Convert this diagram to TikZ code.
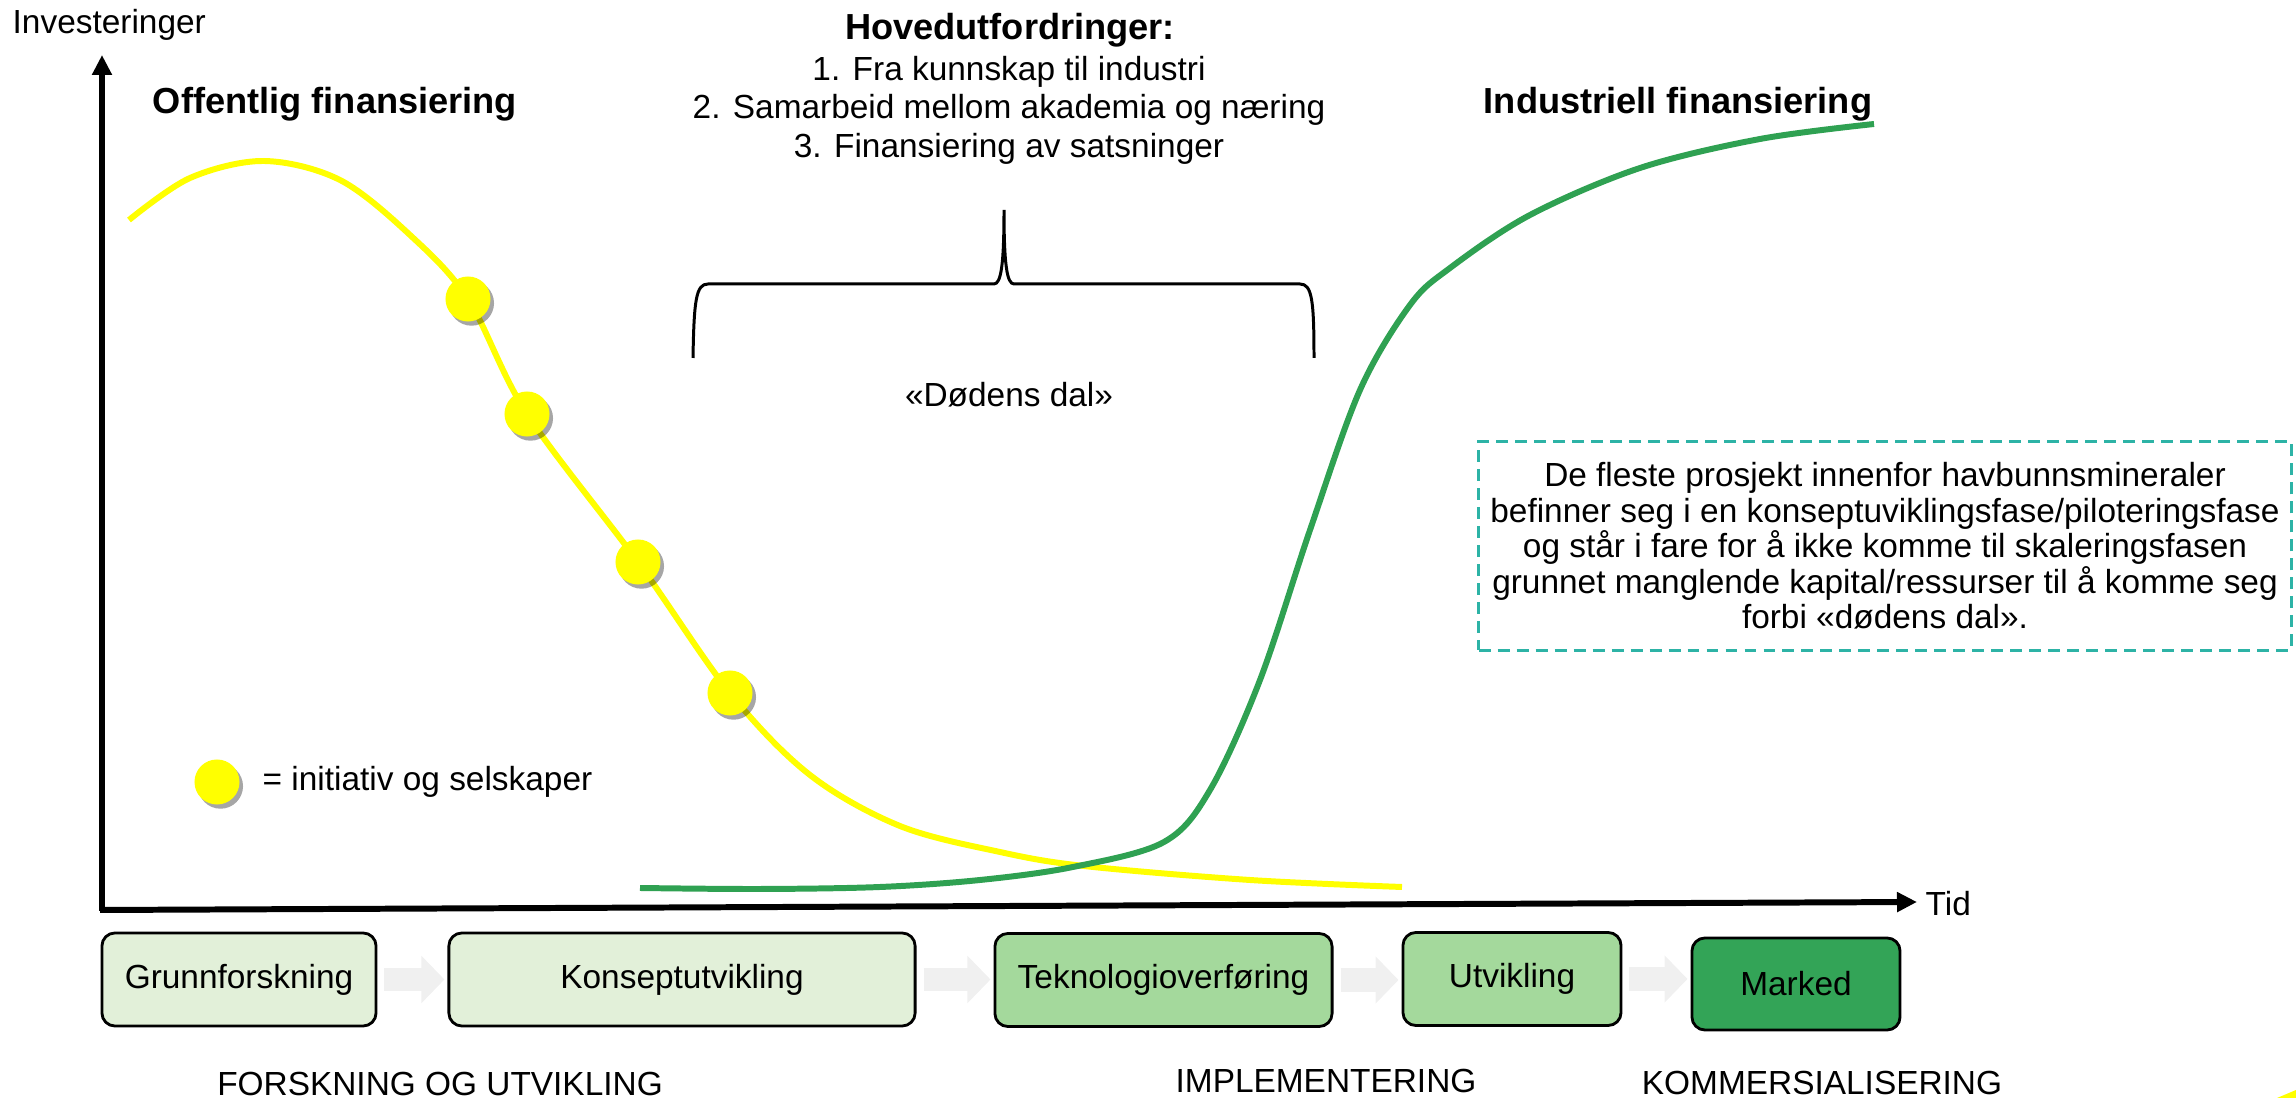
\documentclass[tikz,border=0pt]{standalone}
\usepackage{fontspec}
\setmainfont{Liberation Sans}
\usepackage{tikz}
\usetikzlibrary{arrows.meta, positioning, calc, shadows}
\definecolor{valleyYellow}{HTML}{FFFF00}
\definecolor{valleyGreen}{HTML}{2FA152}
\definecolor{stageLight}{HTML}{E2F0D9}
\definecolor{stageMid}{HTML}{A4D99C}
\definecolor{stageDark}{HTML}{33A457}
\definecolor{flowGrey}{HTML}{F0F0F0}
\definecolor{noteTeal}{HTML}{2DB3A6}
\newcommand{\valleyfont}{\fontsize{9.5}{11}\selectfont}
\newcommand{\valleyhead}{\fontsize{10.3}{12}\selectfont\bfseries}

\begin{document}
\begin{tikzpicture}[
    x=0.01cm, y=-0.01cm,
    txt/.style={
        inner sep=0pt,
        font=\valleyfont,
        text=black
    },
    head/.style={
        inner sep=0pt,
        font=\valleyhead,
        text=black
    },
    stagebox/.style={
        rectangle,
        rounded corners=1.3mm,
        draw=black,
        line width=0.8pt,
        inner sep=0pt,
        minimum height=0.93cm,
        font=\valleyfont
    },
    flow/.style={
        draw=flowGrey,
        line width=0.23cm,
        -{Triangle[length=0.23cm, width=0.46cm]},
        shorten <=0.07cm,
        shorten >=0.03cm
    },
    valleyaxis/.style={
        line width=1.7pt,
        -{Triangle[length=0.2cm, width=0.19cm]}
    },
    curve/.style={
        line width=1.7pt
    },
    initdot/.style={
        circle,
        fill=valleyYellow,
        inner sep=0pt,
        minimum size=0.45cm,
        drop shadow={shadow xshift=1pt, shadow yshift=-1.2pt, opacity=0.35, fill=black}
    },
    note/.style={
        rectangle,
        draw=noteTeal,
        dash pattern=on 3.4pt off 2pt,
        line width=0.85pt,
        minimum width=8.04cm,
        minimum height=2.08cm,
        align=center,
        font=\fontsize{9.5}{10.1}\selectfont
    }
]
\useasboundingbox (0,0) rectangle (2296,1098);

% Curves
\coordinate (d1) at (468,299);
\coordinate (d2) at (527,414);
\coordinate (d3) at (638,562);
\coordinate (d4) at (730,693);

\draw[curve, draw=valleyYellow] plot[smooth, tension=0.55] coordinates {
    (129,220) (190,178) (264,161) (340,180) (410,235) (d1) (d2) (d3) (d4)
    (810,775) (900,826) (1000,852) (1084,866) (1250,880) (1402,887)};

\draw[curve, draw=valleyGreen] plot[smooth, tension=0.55] coordinates {
    (640,888) (760,889) (880,887) (980,880) (1073,867) (1164,842)
    (1210,790) (1260,680) (1310,530) (1360,390) (1410,305) (1450,268)
    (1530,215) (1640,168) (1760,139) (1874,124)};

\node[initdot] (dot1) at (d1) {};
\node[initdot] (dot2) at (d2) {};
\node[initdot] (dot3) at (d3) {};
\node[initdot] (dot4) at (d4) {};

% Axes
\coordinate (origin) at (102,911);
\coordinate (ytop) at (102,55);
\coordinate (xstart) at (100,910);
\coordinate (xend) at (1917,902);
\draw[valleyaxis] (origin) -- (ytop);
\draw[valleyaxis] (xstart) -- (xend);

\node[txt, anchor=west] (invest) at (12,25) {Investeringer};
\node[txt, anchor=west] (tid) at (1925,904) {Tid};

% Headings
\node[head] (offentlig) at (335,104) {Offentlig finansiering};
\node[head] (industriell) at (1678,104) {Industriell finansiering};
\node[head] (hoved) at (1010,30) {Hovedutfordringer:};
\node[txt, align=center, font=\fontsize{9.5}{10.95}\selectfont] (challenges) at (1009,110) {
1. Fra kunnskap til industri\\
2. Samarbeid mellom akademia og næring\\
3. Finansiering av satsninger
};

% Brace over the valley
\draw[line width=0.85pt] (693,358) .. controls (694,300) and (696,284) .. (708,284)
    -- (994,284) .. controls (1001,284) and (1004,265) .. (1004,210)
    .. controls (1004,265) and (1007,284) .. (1014,284)
    -- (1300,284) .. controls (1312,284) and (1314,300) .. (1314,358);
\node[txt] (doedens) at (1009,395) {«Dødens dal»};

% Note
\node[note] (notebox) at (1885,546) {
De fleste prosjekt innenfor havbunnsmineraler\\
befinner seg i en konseptuviklingsfase/piloteringsfase\\
og står i fare for å ikke komme til skaleringsfasen\\
grunnet manglende kapital/ressurser til å komme seg\\
forbi «dødens dal».
};

% Legend
\node[initdot] (keydot) at (217,782) {};
\node[txt, anchor=west] (keytext) at (262,782) {= initiativ og selskaper};

% Stages
\node[stagebox, fill=stageLight, minimum width=2.74cm] (grunn) at (239,979.5) {Grunnforskning};
\node[stagebox, fill=stageLight, minimum width=4.66cm] (konsept) at (682,979.5) {Konseptutvikling};
\node[stagebox, fill=stageMid, minimum width=3.37cm] (tekno) at (1163.5,980) {Teknologioverføring};
\node[stagebox, fill=stageMid, minimum width=2.18cm] (utvikling) at (1512,979) {Utvikling};
\node[stagebox, fill=stageDark, minimum width=2.08cm, minimum height=0.92cm] (marked) at (1796,984) {Marked};

\draw[flow] (grunn.east) -- (grunn.east -| konsept.west);
\draw[flow] (konsept.east) -- (konsept.east -| tekno.west);
\draw[flow] (tekno.east) -- (tekno.east -| utvikling.west);
\draw[flow] (utvikling.east) -- (utvikling.east -| marked.west);

% Phases
\node[txt] (fou) at (440,1084) {FORSKNING OG UTVIKLING};
\node[txt] (impl) at (1326,1081) {IMPLEMENTERING};
\node[txt] (komm) at (1822,1083) {KOMMERSIALISERING};

% Corner mark
\fill[valleyYellow] (2277,1098) -- (2296,1090) -- (2296,1098) -- cycle;

\end{tikzpicture}
\end{document}
